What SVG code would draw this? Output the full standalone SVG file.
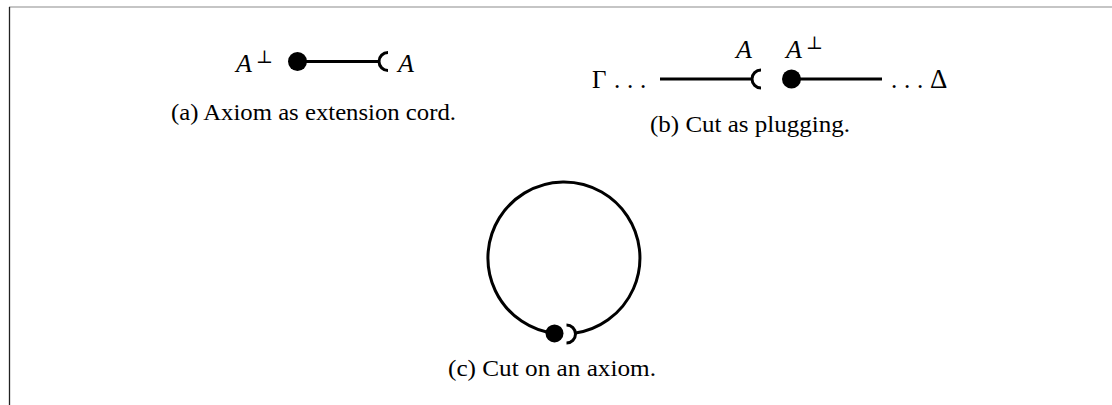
<svg xmlns="http://www.w3.org/2000/svg" width="1112" height="405" viewBox="0 0 1112 405">
<style>
.cap{font-family:"Liberation Serif","DejaVu Serif",serif;font-size:23px;fill:#000}
.math{font-family:"Liberation Serif","DejaVu Serif",serif;font-size:26px;font-style:italic;fill:#000}
.up{font-family:"Liberation Serif","DejaVu Serif",serif;font-size:25px;fill:#000}
.sup{font-family:"DejaVu Serif","Liberation Serif",serif;font-size:18px;font-style:normal;fill:#000}
.wire{fill:none;stroke:#000;stroke-width:3}
.dot{fill:#000}
</style>
<g id="frame">
<line x1="9" y1="7" x2="1112" y2="7" stroke="#8c8c8c" stroke-width="1.2"/>
<line x1="9.5" y1="7" x2="9.5" y2="405" stroke="#222" stroke-width="1.3"/>
</g>
<g id="connectors">
<line class="wire" x1="297" y1="61.5" x2="379" y2="61.5"/>
<path class="wire" d="M388 52.5 A9 9 0 0 0 388 70.5"/>
<line class="wire" x1="660" y1="79" x2="752" y2="79"/>
<path class="wire" d="M761 70 A9 9 0 0 0 761 88"/>
<line class="wire" x1="791" y1="79" x2="882" y2="79"/>
<path class="wire" d="M575.5 333.1 A76 76 0 1 0 554.5 333.4"/>
<path class="wire" d="M566.5 325 A9 9 0 0 1 566.5 343"/>
</g>
<g id="fig-a">
<circle class="dot" cx="297.5" cy="61.5" r="9.5"/>
<text class="math" x="236" y="72">A<tspan class="sup" x="256" y="63">⊥</tspan></text>
<text class="math" x="398" y="72">A</text>
<text class="cap" x="171" y="120" textLength="285" lengthAdjust="spacingAndGlyphs">(a) Axiom as extension cord.</text>
</g>
<g id="fig-b">
<circle class="dot" cx="791.5" cy="79" r="9.5"/>
<text class="up" x="592 614 627 640" y="88">Γ...</text>
<text class="up" x="891 904 917 930" y="88">...<tspan font-size="27">Δ</tspan></text>
<text class="math" x="736" y="58">A</text>
<text class="math" x="786" y="58">A<tspan class="sup" x="806" y="49">⊥</tspan></text>
<text class="cap" x="650" y="132" textLength="200" lengthAdjust="spacingAndGlyphs">(b) Cut as plugging.</text>
</g>
<g id="fig-c">
<circle class="dot" cx="554.5" cy="333.4" r="9"/>
<text class="cap" x="448" y="376" textLength="208" lengthAdjust="spacingAndGlyphs">(c) Cut on an axiom.</text>
</g>
</svg>
